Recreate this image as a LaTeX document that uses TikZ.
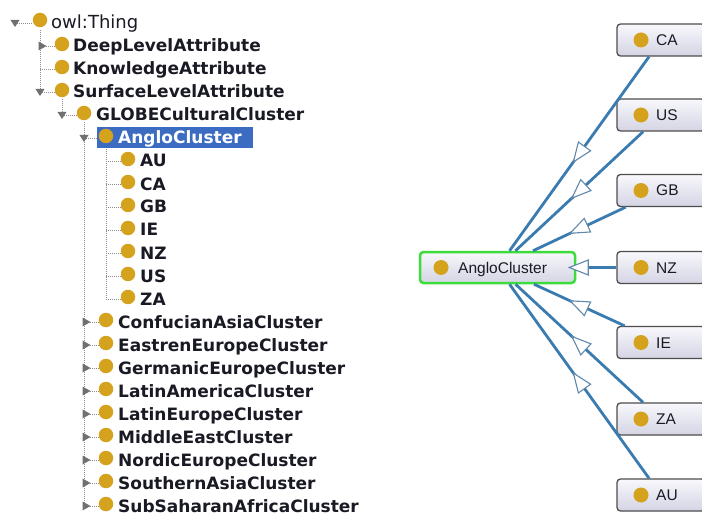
\documentclass[tikz,border=0pt]{standalone}
\usepackage{fontspec}
\setmainfont{DejaVu Sans}
\newfontfamily\graffont{Liberation Sans}
\usetikzlibrary{decorations.markings}

\definecolor{dotgold}{HTML}{D4A21C}
\definecolor{selblue}{HTML}{3B6CC2}
\definecolor{edgeblue}{HTML}{3A7BB0}
\definecolor{headline}{HTML}{5F88AC}
\definecolor{treegray}{HTML}{8C8C8C}
\definecolor{trigray}{HTML}{707070}
\definecolor{boxtop}{HTML}{F8F8FC}
\definecolor{boxbot}{HTML}{D4D4E4}
\definecolor{boxline}{HTML}{4E4E4E}
\definecolor{selgreen}{HTML}{3CDC3C}
\definecolor{inktext}{HTML}{1A1A24}

\begin{document}
\begin{tikzpicture}[x=1pt, y=-1pt,
  treeline/.style={draw=treegray, line width=0.8pt, dash pattern=on 1pt off 1pt},
  tdot/.style={circle, fill=dotgold, inner sep=0pt, minimum size=14.5pt},
  tlabel/.style={inner sep=0pt, anchor=base west, text=inktext,
    font=\fontsize{17}{20}\selectfont\bfseries},
  tlabelreg/.style={tlabel, font=\fontsize{18}{21}\selectfont},
  expanded/.pic={\fill[trigray] (-4.5,-3) -- (4.5,-3) -- (0,4) -- cycle;},
  collapsed/.pic={\fill[trigray] (-3.5,-4.5) -- (-3.5,4.5) -- (4.5,0) -- cycle;},
  gbox/.style={rectangle, rounded corners=3.5pt, draw=boxline, line width=1.3pt,
    top color=boxtop, bottom color=boxbot, inner sep=0pt,
    minimum width=88pt, minimum height=32pt},
  gdot/.style={circle, fill=dotgold, inner sep=0pt, minimum size=15pt},
  glabel/.style={inner sep=0pt, anchor=base west, text=inktext,
    font=\graffont\fontsize{15.5}{18}\selectfont},
  edge/.style={draw=edgeblue, line width=2.8pt},
  openhead/.style={draw=headline, line width=1.1pt, fill=white, line join=miter}
]
\useasboundingbox (0,0) rectangle (702,516);
\fill[white] (0,0) rectangle (702,516);
\begin{scope}
\clip (0,0) rectangle (702,516);

% ---------- class hierarchy (tree view) ----------
% guide lines
\draw[treeline] (15,23) -- (33,23);
\draw[treeline] (40,30) -- (40,92);
\foreach \yy in {46,69,92} \draw[treeline] (40,\yy) -- (55,\yy);
\draw[treeline] (62,99) -- (62,115) (62,115) -- (77,115);
\draw[treeline] (84,122) -- (84,506);
\foreach \yy in {138,322,345,368,391,414,437,460,483,506} \draw[treeline] (84,\yy) -- (99,\yy);
\draw[treeline] (106,145) -- (106,299);
\foreach \yy in {161,184,207,230,253,276,299} \draw[treeline] (106,\yy) -- (121,\yy);

% root and top-level classes
\pic at (15,23) {expanded};
\node[tdot] (thing-dot) at (40,20) {};
\node[tlabelreg] (thing) at (51,29) {owl:Thing};

\pic at (42,46) {collapsed};
\node[tdot] (deep-dot) at (62,44) {};
\node[tlabel] (deep) at (73,52) {DeepLevelAttribute};

\node[tdot] (know-dot) at (62,67) {};
\node[tlabel] (know) at (73,75) {KnowledgeAttribute};

\pic at (40,92) {expanded};
\node[tdot] (surf-dot) at (62,90) {};
\node[tlabel] (surf) at (73,98) {SurfaceLevelAttribute};

\pic at (62,115) {expanded};
\node[tdot] (globe-dot) at (84,113) {};
\node[tlabel] (globe) at (96,121) {GLOBECulturalCluster};

% selected class
\fill[selblue] (97,127) rectangle (253,148);
\pic at (84,138) {expanded};
\node[tdot] (anglo-dot) at (106,136) {};
\node[tlabel, text=white] (anglo) at (118,144) {AngloCluster};

% members of AngloCluster
\foreach \nm [count=\k from 6] in {AU,CA,GB,IE,NZ,US,ZA} {
  \pgfmathsetmacro\yy{23*(\k+1)}
  \node[tdot] (t\nm-dot) at (128,\yy-2) {};
  \node[tlabel] (t\nm) at (140,\yy+6) {\nm};
}

% sibling clusters
\foreach \nm [count=\k from 13] in {ConfucianAsiaCluster,EastrenEuropeCluster,
    GermanicEuropeCluster,LatinAmericaCluster,LatinEuropeCluster,
    MiddleEastCluster,NordicEuropeCluster,SouthernAsiaCluster,SubSaharanAfricaCluster} {
  \pgfmathsetmacro\yy{23*(\k+1)}
  \pic at (86,\yy) {collapsed};
  \node[tdot] (\nm-dot) at (106,\yy-2) {};
  \node[tlabel] (\nm) at (118,\yy+6) {\nm};
}

% ---------- graph view ----------
\node[gbox, draw=selgreen, line width=2.5pt, minimum width=155pt, minimum height=31pt]
  (ganglo) at (497.5,267.5) {};
\node[gdot] (ganglo-dot) at (441,267.5) {};
\node[glabel] (ganglo-label) at (458,273) {AngloCluster};

\foreach \nm/\yy in {CA/40,US/115,GB/190.5,NZ/267.5,IE/342.5,ZA/419,AU/495} {
  \node[gbox] (g\nm) at (661,\yy) {};
  \node[gdot] (g\nm-dot) at (641,\yy) {};
  \node[glabel] (g\nm-label) at (656,\yy+5.5) {\nm};
}

\foreach \nm in {CA,US,GB,NZ,IE,ZA,AU} {
  \draw[edge] (g\nm) -- (ganglo);
  \path[decorate, decoration={markings, mark=at position 0.5 with
      {\draw[openhead] (10pt,0pt) -- (-9pt,7.5pt) -- (-9pt,-7.5pt) -- cycle;}}]
    (g\nm.center) -- (ganglo.center);
}
\end{scope}
\end{tikzpicture}
\end{document}
